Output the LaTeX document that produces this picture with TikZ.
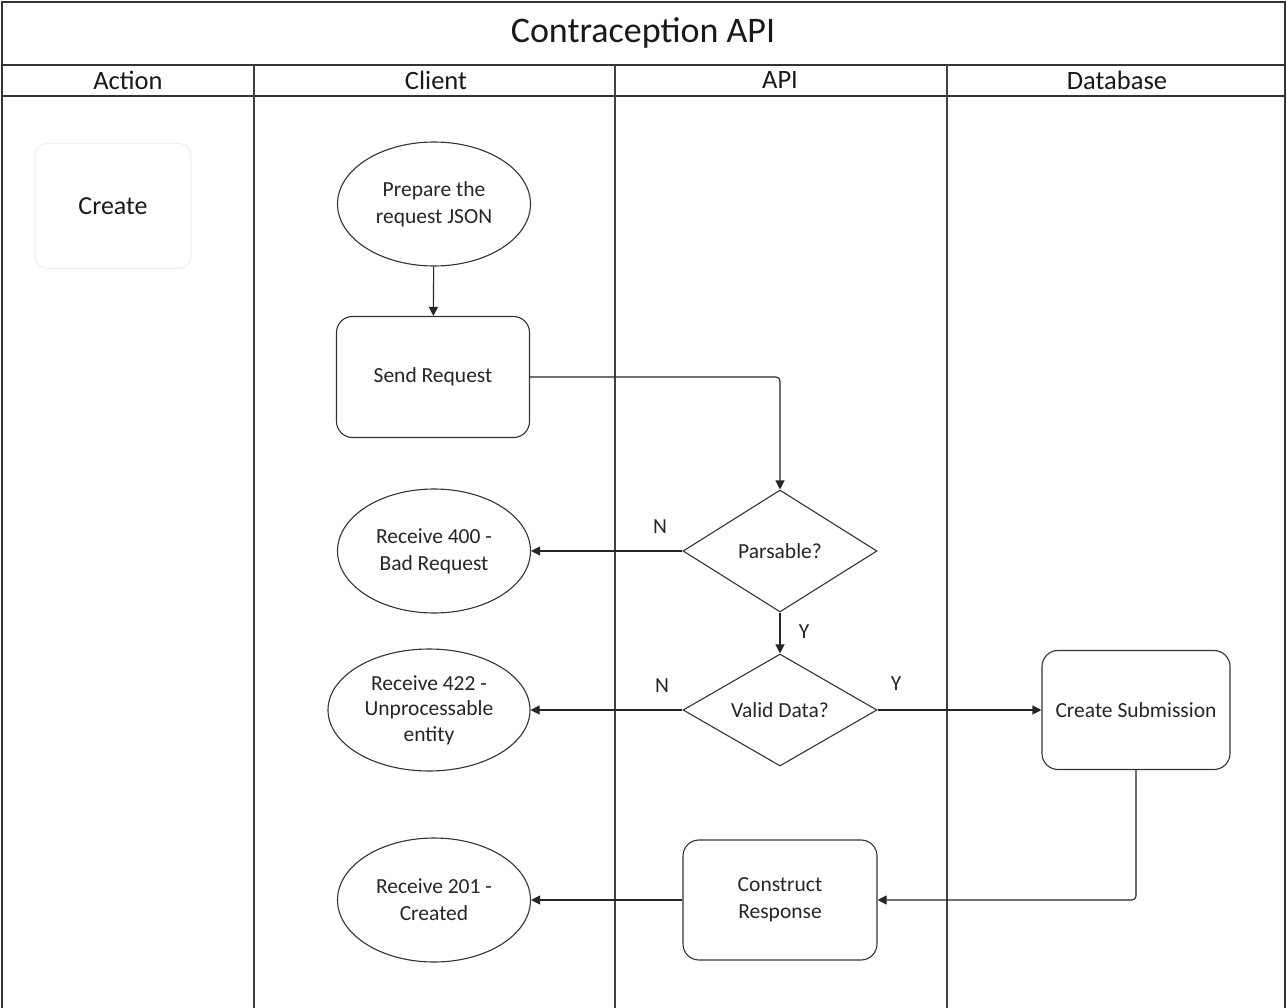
\documentclass[tikz,border=0pt]{standalone}
\usepackage{fontspec}
\setmainfont{Carlito}
\usetikzlibrary{shapes.geometric,arrows.meta}
\begin{document}
\begin{tikzpicture}[x=1pt,y=-1pt,
  frame/.style={draw=black!80,line width=1.4pt},
  lane/.style={draw=black!75,line width=1.3pt},
  txt/.style={font=\fontsize{21.5}{27}\selectfont,align=center,text=black!85},
  ell/.style={ellipse,draw=black!80,line width=1.1pt,minimum width=193pt,minimum height=124pt,inner sep=0pt,txt},
  proc/.style={rectangle,rounded corners=16pt,draw=black!80,line width=1.1pt,minimum width=193pt,minimum height=121pt,txt},
  dec/.style={diamond,aspect=1.6,draw=black!80,line width=1.1pt,minimum width=194pt,minimum height=122pt,inner sep=0pt,txt},
  arr/.style={draw=black!85,line width=1.1pt,-{Triangle[length=9pt,width=9pt]}},
  lbl/.style={font=\fontsize{21.5}{27}\selectfont,text=black!85}
]
\useasboundingbox (0,0) rectangle (1287,1008);
\fill[white] (0,0) rectangle (1287,1008);
% frame and lanes
\draw[frame] (2,1010) -- (2,2) -- (1285,2) -- (1285,1010);
\draw[frame] (2,65) -- (1285,65);
\draw[frame] (2,96) -- (1285,96);
\draw[lane] (254,65) -- (254,1010);
\draw[lane] (615,65) -- (615,1010);
\draw[lane] (947,65) -- (947,1010);
\node[font=\fontsize{36}{42}\selectfont,text=black!90] (title) at (643,33) {Contraception API};
\node[font=\fontsize{26.5}{30}\selectfont,text=black!90] (hAction) at (128,80) {Action};
\node[font=\fontsize{26.5}{30}\selectfont,text=black!90] (hClient) at (436,80) {Client};
\node[font=\fontsize{26.5}{30}\selectfont,text=black!90] (hAPI) at (780,80) {API};
\node[font=\fontsize{26.5}{30}\selectfont,text=black!90] (hDB) at (1117,80) {Database};
% action box
\node[rectangle,rounded corners=12pt,draw=black!7,line width=1pt,minimum width=156pt,minimum height=125pt,font=\fontsize{26}{30}\selectfont,text=black!90] (create) at (113,206) {Create};
% nodes
\node[ell] (prep) at (434,204) {Prepare the\\request JSON};
\node[proc] (send) at (433,377) {Send Request};
\node[dec] (pars) at (780,551) {Parsable?};
\node[ell] (r400) at (434,551) {Receive 400 -\\Bad Request};
\node[dec,minimum height=112pt] (valid) at (780,710) {Valid Data?};
\node[ell,minimum width=202pt,minimum height=122pt,font=\fontsize{21.5}{25.5}\selectfont] (r422) at (429,710) {Receive 422 -\\Unprocessable\\entity};
\node[proc,minimum width=188pt,minimum height=119pt] (sub) at (1136,710) {Create Submission};
\node[proc,minimum width=194pt,minimum height=120pt] (cons) at (780,900) {Construct\\Response};
\node[ell,minimum height=124pt] (r201) at (434,900) {Receive 201 -\\Created};
% connectors
\draw[arr] (prep) -- (send);
\draw[arr,rounded corners=4pt] (send.east) -| (pars.north);
\draw[arr] (pars.west) -- (r400.east);
\draw[arr] (pars.south) -- (valid.north);
\draw[arr] (valid.west) -- (r422.east);
\draw[arr] (valid.east) -- (sub.west);
\draw[arr,rounded corners=4pt] (sub.south) |- (cons.east);
\draw[arr] (cons.west) -- (r201.east);
% labels
\node[lbl] (lN1) at (660,527) {N};
\node[lbl] (lY1) at (804,632) {Y};
\node[lbl] (lN2) at (662,686) {N};
\node[lbl] (lY2) at (896,684) {Y};
\end{tikzpicture}
\end{document}
